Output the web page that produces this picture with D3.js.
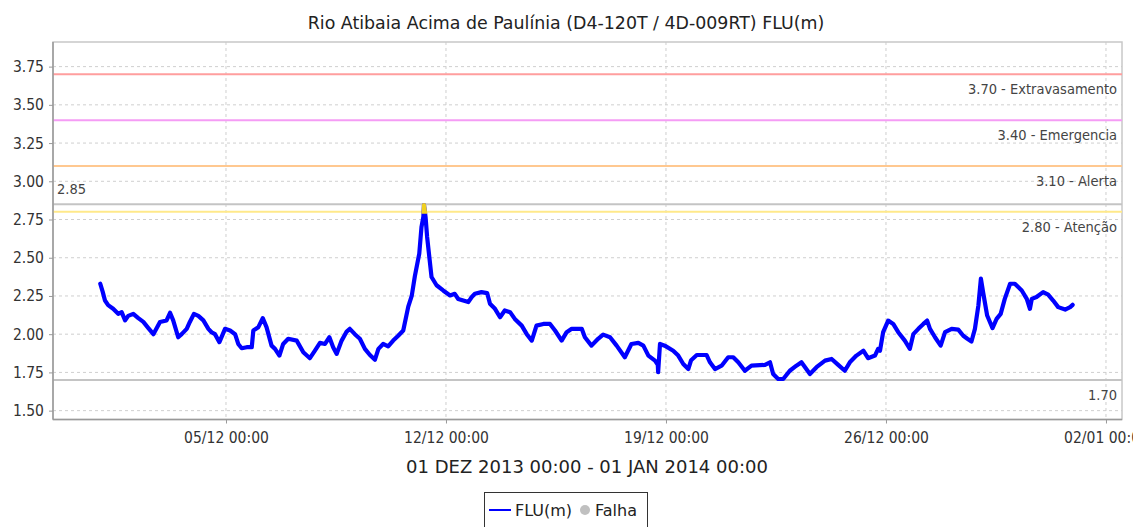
<!DOCTYPE html>
<html><head><meta charset="utf-8">
<script src="https://cdn.jsdelivr.net/npm/d3@7"></script>
<style>
html,body{margin:0;padding:0;background:#fff;}
svg{display:block;}
.cond{font-family:"DejaVu Sans Condensed","DejaVu Sans",sans-serif;font-stretch:condensed;}
.reg{font-family:"DejaVu Sans",sans-serif;}
</style></head>
<body>
<svg id="chart" width="1133" height="527"></svg>
<script>
// ---- data (days since 01 DEZ 2013 00:00, level in m) ----
const dayOffsets = [0.00,0.08,0.15,0.25,0.41,0.57,0.68,0.79,0.89,1.05,1.21,1.37,1.53,1.69,1.90,2.11,2.22,2.32,2.48,2.59,2.75,2.85,2.98,3.12,3.28,3.44,3.54,3.65,3.79,3.97,4.13,4.29,4.39,4.50,4.66,4.82,4.87,5.03,5.17,5.29,5.45,5.56,5.70,5.82,5.98,6.25,6.46,6.67,6.83,6.99,7.15,7.29,7.41,7.52,7.68,7.84,7.94,8.10,8.26,8.42,8.58,8.74,8.85,9.00,9.16,9.32,9.48,9.64,9.80,9.91,10.01,10.15,10.22,10.28,10.30,10.35,10.40,10.47,10.54,10.70,10.91,11.13,11.28,11.39,11.55,11.71,11.82,11.92,12.13,12.31,12.40,12.56,12.72,12.87,13.04,13.19,13.41,13.57,13.73,13.88,14.10,14.31,14.47,14.68,14.84,15.00,15.32,15.42,15.63,15.84,16.00,16.22,16.43,16.69,16.90,17.12,17.28,17.44,17.65,17.74,17.75,17.81,17.96,18.23,18.39,18.55,18.71,18.80,18.98,19.29,19.40,19.56,19.77,19.98,20.14,20.30,20.51,20.72,21.15,21.31,21.41,21.57,21.73,21.94,22.15,22.31,22.58,22.79,23.06,23.27,23.48,23.69,23.85,24.06,24.28,24.43,24.65,24.75,24.81,24.91,25.07,25.23,25.39,25.60,25.76,25.87,26.03,26.19,26.31,26.40,26.56,26.74,26.88,27.09,27.30,27.46,27.59,27.72,27.83,27.94,28.02,28.09,28.22,28.39,28.52,28.65,28.78,28.95,29.10,29.32,29.48,29.58,29.64,29.79,30.00,30.16,30.32,30.48,30.70,30.86,30.94];
const levels = [2.33,2.275,2.22,2.19,2.166,2.133,2.144,2.09,2.12,2.133,2.105,2.08,2.04,2.00,2.08,2.09,2.14,2.09,1.98,2.00,2.035,2.08,2.133,2.12,2.09,2.035,2.013,2.00,1.948,2.035,2.024,2.00,1.936,1.908,1.915,1.915,2.024,2.046,2.105,2.046,1.925,1.904,1.86,1.936,1.97,1.958,1.882,1.843,1.892,1.943,1.936,1.98,1.915,1.871,1.958,2.017,2.035,2.00,1.97,1.904,1.864,1.833,1.904,1.936,1.92,1.958,1.99,2.024,2.18,2.25,2.38,2.527,2.70,2.767,2.845,2.767,2.636,2.505,2.374,2.32,2.286,2.253,2.264,2.23,2.22,2.21,2.243,2.264,2.275,2.269,2.199,2.166,2.111,2.155,2.144,2.10,2.056,2.00,1.958,2.056,2.067,2.067,2.024,1.958,2.013,2.035,2.035,1.98,1.925,1.97,1.997,1.98,1.925,1.849,1.936,1.943,1.925,1.86,1.827,1.80,1.751,1.936,1.925,1.892,1.86,1.805,1.772,1.83,1.864,1.864,1.816,1.772,1.794,1.849,1.849,1.816,1.761,1.794,1.799,1.816,1.74,1.707,1.707,1.761,1.794,1.816,1.74,1.784,1.827,1.838,1.799,1.761,1.816,1.86,1.892,1.843,1.86,1.904,1.892,2.013,2.089,2.067,2.013,1.958,1.904,2.00,2.035,2.067,2.089,2.035,1.98,1.925,2.013,2.035,2.03,1.99,1.97,1.952,2.035,2.188,2.363,2.275,2.122,2.04,2.10,2.133,2.231,2.33,2.33,2.286,2.231,2.166,2.231,2.243,2.275,2.258,2.22,2.177,2.161,2.177,2.192];

const thresholdValues = [3.70, 3.40, 3.10, 2.85, 2.80, 1.70];
const thresholdLabels = ["3.70 - Extravasamento", "3.40 - Emergencia", "3.10 - Alerta", "2.85", "2.80 - Atenção", "1.70"];
const yTicks = [1.50,1.75,2.00,2.25,2.50,2.75,3.00,3.25,3.50,3.75];
const xTickDates = ["2013-12-05","2013-12-12","2013-12-19","2013-12-26","2014-01-02"];
const titleText = "Rio Atibaia Acima de Paulínia (D4-120T / 4D-009RT) FLU(m)";
const xAxisLabel = "01 DEZ 2013 00:00 - 01 JAN 2014 00:00";
const legendLabels = ["FLU(m)", "Falha"];

// ---- layout ----
const svg = d3.select("#chart");
const L = 53, R = 1122, T = 42, B = 419.5;
const start = Date.UTC(2013, 11, 1);
const DAY = 86400000;
const x = d3.scaleUtc()
  .domain([new Date(start - 1.5 * DAY - 0.1 * 3600000), new Date(start + 32.51 * DAY)])
  .range([L, R]);
const y = d3.scaleLinear().domain([1.442, 3.911]).range([B, T]);

const data = dayOffsets.map((d, i) => ({t: new Date(start + d * DAY), v: levels[i]}));
const xTicks = xTickDates.map(s => new Date(s + "T00:00:00Z"));

// gridlines
const grid = svg.append("g");
grid.selectAll(".hg").data(yTicks).join("line")
  .attr("x1", L).attr("x2", R).attr("y1", d => y(d)).attr("y2", d => y(d))
  .attr("stroke", "#cfcfcf").attr("stroke-width", 1).attr("stroke-dasharray", "3,3");
grid.selectAll(".vg").data(xTicks).join("line")
  .attr("x1", d => x(d)).attr("x2", d => x(d)).attr("y1", T).attr("y2", B)
  .attr("stroke", "#cfcfcf").attr("stroke-width", 1).attr("stroke-dasharray", "3,3");

// plot outline (top/right)
svg.append("rect").attr("x", L).attr("y", T).attr("width", R - L).attr("height", B - T)
  .attr("fill", "none").attr("stroke", "#c8c8c8").attr("stroke-width", 1.5);

// thresholds
const thrColors = ["#ff9e9e", "#f59cf5", "#ffc890", "#c4c4c4", "#ffe98a", "#c4c4c4"];
svg.append("g").selectAll("line").data(thresholdValues).join("line")
  .attr("x1", L).attr("x2", R).attr("y1", d => y(d)).attr("y2", d => y(d))
  .attr("stroke", (d, i) => thrColors[i]).attr("stroke-width", 2);

const lbl = svg.append("g").attr("class", "cond").attr("font-size", 14.5).attr("fill", "#444");
thresholdValues.forEach((v, i) => {
  if (thresholdLabels[i] === "2.85") {
    lbl.append("text").attr("x", L + 4).attr("y", y(v) - 10).text(thresholdLabels[i]);
  } else {
    lbl.append("text").attr("x", R - 5).attr("y", y(v) + 20).attr("text-anchor", "end").text(thresholdLabels[i]);
  }
});

// series
const line = d3.line().x(d => x(d.t)).y(d => y(d.v));
svg.append("path").datum(data).attr("d", line)
  .attr("fill", "none").attr("stroke", "#0000ff").attr("stroke-width", 4.2)
  .attr("stroke-linejoin", "round").attr("stroke-linecap", "round");
// portion above attention level in yellow
svg.append("clipPath").attr("id", "abv").append("rect")
  .attr("x", L).attr("y", T).attr("width", R - L).attr("height", y(2.80) - T + 2);
svg.append("path").datum(data).attr("d", line).attr("clip-path", "url(#abv)")
  .attr("fill", "none").attr("stroke", "#f0d020").attr("stroke-width", 4.2)
  .attr("stroke-linejoin", "round").attr("stroke-linecap", "round");

// axes
const yAxis = svg.append("g").attr("transform", `translate(${L},0)`)
  .call(d3.axisLeft(y).tickValues(yTicks).tickFormat(d3.format(".2f")).tickSize(4).tickPadding(5));
const xAxis = svg.append("g").attr("transform", `translate(0,${B})`)
  .call(d3.axisBottom(x).tickValues(xTicks).tickFormat(d3.utcFormat("%d/%m %H:%M")).tickSize(4).tickPadding(8));
[yAxis, xAxis].forEach(a => {
  a.select(".domain").attr("stroke", "#999").attr("stroke-width", 1.5);
  a.selectAll(".tick line").attr("stroke", "#999");
  a.selectAll(".tick text").attr("class", "cond").attr("font-size", 15.5).attr("fill", "#333")
    .style("font-family", '"DejaVu Sans Condensed","DejaVu Sans",sans-serif');
});
yAxis.select(".domain").attr("d", `M0,${T}V${B}`);
xAxis.select(".domain").attr("d", `M${L},0H${R}`);

// title & axis label
svg.append("text").attr("class", "reg").attr("x", 566).attr("y", 29).attr("text-anchor", "middle")
  .attr("font-size", 17.4).attr("fill", "#222").text(titleText);
svg.append("text").attr("class", "reg").attr("x", 587).attr("y", 473).attr("text-anchor", "middle")
  .attr("font-size", 18).attr("fill", "#222").text(xAxisLabel);

// legend
const lg = svg.append("g");
lg.append("rect").attr("x", 484.5).attr("y", 492.5).attr("width", 163).attr("height", 40)
  .attr("fill", "#fff").attr("stroke", "#333").attr("stroke-width", 1);
lg.append("line").attr("x1", 489).attr("x2", 511).attr("y1", 510).attr("y2", 510)
  .attr("stroke", "#0000ff").attr("stroke-width", 2);
lg.append("text").attr("class", "reg").attr("x", 515).attr("y", 516).attr("font-size", 16).attr("fill", "#222").text(legendLabels[0]);
lg.append("circle").attr("cx", 585).attr("cy", 510).attr("r", 5).attr("fill", "#c0c0c0");
lg.append("text").attr("class", "reg").attr("x", 595).attr("y", 516).attr("font-size", 16).attr("fill", "#222").text(legendLabels[1]);
</script>
</body></html>
